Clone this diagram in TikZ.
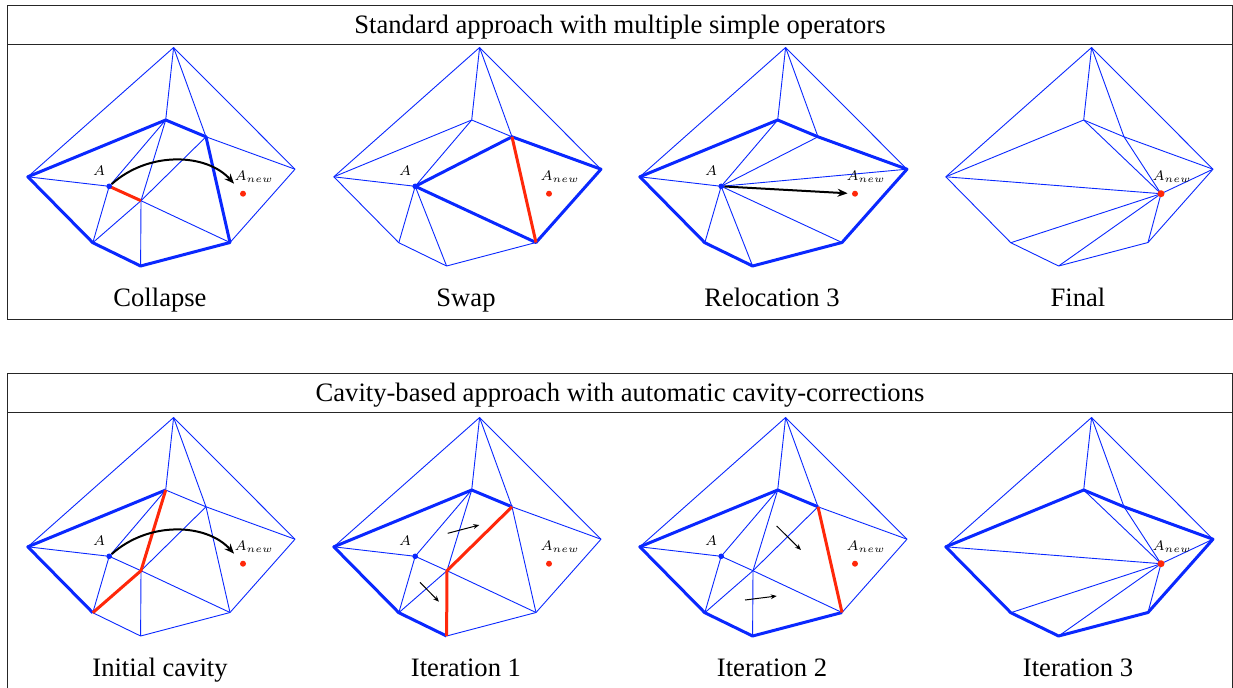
\documentclass[tikz,border=0pt]{standalone}
\usepackage{fontspec}
\setmainfont{Liberation Serif}
\usetikzlibrary{arrows.meta}

\definecolor{meshblue}{RGB}{10,40,255}
\definecolor{badred}{RGB}{255,40,10}

% vertices of one mesh panel (pixel units, y downwards)
\newcommand{\meshpts}{%
  \coordinate (T) at (173.6,47.5);
  \coordinate (L) at (27.8,176.8);
  \coordinate (R) at (295,169.2);
  \coordinate (P) at (165.7,120);
  \coordinate (Q) at (206,136.8);
  \coordinate (A) at (109.2,186.3);
  \coordinate (C) at (141,200.7);
  \coordinate (BL) at (92.8,242.7);
  \coordinate (B) at (140.6,266);
  \coordinate (BR) at (230,242.5);
  \coordinate (N) at (243,193.7);
}

\begin{document}
\begin{tikzpicture}[x=0.5pt, y=-0.5pt,
    every node/.style={font=\fontsize{13.3}{16}\selectfont},
    frame/.style={draw=black!85, line width=0.5pt},
    mesh/.style={draw=meshblue, line width=0.45pt},
    cav/.style={draw=meshblue, line width=1.5pt, line join=round},
    bad/.style={draw=badred, line width=1.5pt, line join=round},
    move/.style={-{Stealth[length=5pt, width=4pt]}, line width=1pt},
    push/.style={-{Stealth[length=3pt, width=2.4pt]}, line width=0.5pt},
    vtx/.style={circle, fill=meshblue, inner sep=0pt, minimum size=2.8pt},
    newvtx/.style={circle, fill=badred, inner sep=0pt, minimum size=3pt},
    lab/.style={font=\fontsize{7}{8}\selectfont, inner sep=0pt}]
  \useasboundingbox (0,0) rectangle (1233,687);

  % frames and titles
  \draw[frame] (7,5) rectangle (1232.5,319.5);
  \draw[frame] (7,44.5) -- (1232.5,44.5);
  \draw[frame] (7,373.5) rectangle (1232.5,700);
  \draw[frame] (7,412.5) -- (1232.5,412.5);
  \node[anchor=base] (stdtitle) at (620,33.3) {Standard approach with multiple simple operators};
  \node[anchor=base] (cavtitle) at (620,401) {Cavity-based approach with automatic cavity-corrections};

  % outer fan, the same in every panel
  \foreach \col in {0,1,2,3}
    \foreach \row in {0,370} {
      \begin{scope}[shift={(306*\col,\row)}]
        \meshpts
        \path[mesh] (T) edge (L) edge (R) edge (P) edge (Q);
      \end{scope}
    }

  % Collapse
  \begin{scope}[shift={(0,0)}]
    \meshpts
    \path[mesh] (Q) edge (R) (R) edge (BR) (L) edge (A) (A) edge (P) edge (BL)
      (C) edge (P) edge (Q) edge (B) edge (BR) edge (BL);
    \draw[cav] (L) -- (P) -- (Q) -- (BR) -- (B) -- (BL) -- cycle;
    \draw[bad] (A) -- (C);
    \node[vtx] (a1) at (A) {};
    \node[newvtx] (n1) at (N) {};
    \node[lab, xshift=-5pt, yshift=8pt] (la1) at (A) {$A$};
    \node[lab, xshift=5.5pt, yshift=8.5pt] (ln1) at (N) {$A_{new}$};
    \draw[move, shorten >=5pt] (a1) to[bend left=45] (n1);
    \node[anchor=base] (collapse) at (160,306.5) {Collapse};
  \end{scope}

  % Swap
  \begin{scope}[shift={(306,0)}]
    \meshpts
    \path[mesh] (L) edge (P) (P) edge (Q) (L) edge (A) edge (BL)
      (A) edge (P) edge (BL) edge (B) (BL) edge (B) (B) edge (BR);
    \draw[cav] (A) -- (Q) -- (R) -- (BR) -- cycle;
    \draw[bad] (Q) -- (BR);
    \node[vtx] (a2) at (A) {};
    \node[newvtx] (n2) at (N) {};
    \node[lab, xshift=-5pt, yshift=8pt] (la2) at (A) {$A$};
    \node[lab, xshift=5.5pt, yshift=8.5pt] (ln2) at (N) {$A_{new}$};
    \node[anchor=base] (swap) at (160,306.5) {Swap};
  \end{scope}

  % Relocation 3
  \begin{scope}[shift={(612,0)}]
    \meshpts
    \path[mesh] (A) edge (L) edge (P) edge (Q) edge (R) edge (BR) edge (B) edge (BL);
    \draw[cav] (L) -- (P) -- (Q) -- (R) -- (BR) -- (B) -- (BL) -- cycle;
    \node[vtx] (a3) at (A) {};
    \node[newvtx] (n3) at (N) {};
    \node[lab, xshift=-5pt, yshift=8pt] (la3) at (A) {$A$};
    \node[lab, xshift=5.5pt, yshift=8.5pt] (ln3) at (N) {$A_{new}$};
    \draw[move, shorten >=2pt] (a3) -- (n3);
    \node[anchor=base] (reloc) at (160,306.5) {Relocation 3};
  \end{scope}

  % Final
  \begin{scope}[shift={(918,0)}]
    \meshpts
    \path[mesh] (L) edge (P) (P) edge (Q) (Q) edge (R) (R) edge (BR)
      (BR) edge (B) (B) edge (BL) (BL) edge (L)
      (N) edge (L) edge (P) edge (Q) edge (R) edge (BR) edge (B) edge (BL);
    \node[newvtx, minimum size=3.5pt] (n4) at (N) {};
    \node[lab, xshift=5.5pt, yshift=8.5pt] (ln4) at (N) {$A_{new}$};
    \node[anchor=base] (final) at (160,306.5) {Final};
  \end{scope}

  % Initial cavity
  \begin{scope}[shift={(0,370)}]
    \meshpts
    \path[mesh] (P) edge (Q) (Q) edge (R) (R) edge (BR) (BR) edge (B) (B) edge (BL)
      (Q) edge (BR) (L) edge (A) (A) edge (P) edge (BL) edge (C)
      (C) edge (Q) edge (B) edge (BR);
    \draw[cav] (P) -- (L) -- (BL);
    \draw[bad] (P) -- (C) -- (BL);
    \node[vtx] (a5) at (A) {};
    \node[newvtx] (n5) at (N) {};
    \node[lab, xshift=-5pt, yshift=8pt] (la5) at (A) {$A$};
    \node[lab, xshift=5.5pt, yshift=8.5pt] (ln5) at (N) {$A_{new}$};
    \draw[move, shorten >=5pt] (a5) to[bend left=45] (n5);
    \node[anchor=base] (initcav) at (160,306.5) {Initial cavity};
  \end{scope}

  % Iteration 1
  \begin{scope}[shift={(306,370)}]
    \meshpts
    \path[mesh] (Q) edge (R) (R) edge (BR) (BR) edge (B) (Q) edge (BR)
      (L) edge (A) (A) edge (P) edge (BL) edge (C)
      (C) edge (P) edge (BL) edge (BR);
    \draw[cav] (Q) -- (P) -- (L) -- (BL) -- (B);
    \draw[bad] (Q) -- (C) -- (B);
    \coordinate (s1) at (141.7,163.3);
    \coordinate (e1) at (173.3,155);
    \coordinate (s2) at (114,212.3);
    \coordinate (e2) at (133,231.7);
    \draw[push] (s1) -- (e1);
    \draw[push] (s2) -- (e2);
    \node[vtx] (a6) at (A) {};
    \node[newvtx] (n6) at (N) {};
    \node[lab, xshift=-5pt, yshift=8pt] (la6) at (A) {$A$};
    \node[lab, xshift=5.5pt, yshift=8.5pt] (ln6) at (N) {$A_{new}$};
    \node[anchor=base] (iter1) at (160,306.5) {Iteration 1};
  \end{scope}

  % Iteration 2
  \begin{scope}[shift={(612,370)}]
    \meshpts
    \path[mesh] (Q) edge (R) (R) edge (BR)
      (L) edge (A) (A) edge (P) edge (BL) edge (C)
      (C) edge (P) edge (Q) edge (BL) edge (B) edge (BR);
    \draw[cav] (Q) -- (P) -- (L) -- (BL) -- (B) -- (BR);
    \draw[bad] (Q) -- (BR);
    \coordinate (s1) at (164.7,156);
    \coordinate (e1) at (189,180);
    \coordinate (s2) at (133,230);
    \coordinate (e2) at (164.7,226);
    \draw[push] (s1) -- (e1);
    \draw[push] (s2) -- (e2);
    \node[vtx] (a7) at (A) {};
    \node[newvtx] (n7) at (N) {};
    \node[lab, xshift=-5pt, yshift=8pt] (la7) at (A) {$A$};
    \node[lab, xshift=5.5pt, yshift=8.5pt] (ln7) at (N) {$A_{new}$};
    \node[anchor=base] (iter2) at (160,306.5) {Iteration 2};
  \end{scope}

  % Iteration 3
  \begin{scope}[shift={(918,370)}]
    \meshpts
    \path[mesh] (N) edge (L) edge (P) edge (Q) edge (R) edge (BR) edge (B) edge (BL);
    \draw[cav] (L) -- (P) -- (Q) -- (R) -- (BR) -- (B) -- (BL) -- cycle;
    \node[newvtx, minimum size=3.5pt] (n8) at (N) {};
    \node[lab, xshift=5.5pt, yshift=8.5pt] (ln8) at (N) {$A_{new}$};
    \node[anchor=base] (iter3) at (160,306.5) {Iteration 3};
  \end{scope}
\end{tikzpicture}
\end{document}
